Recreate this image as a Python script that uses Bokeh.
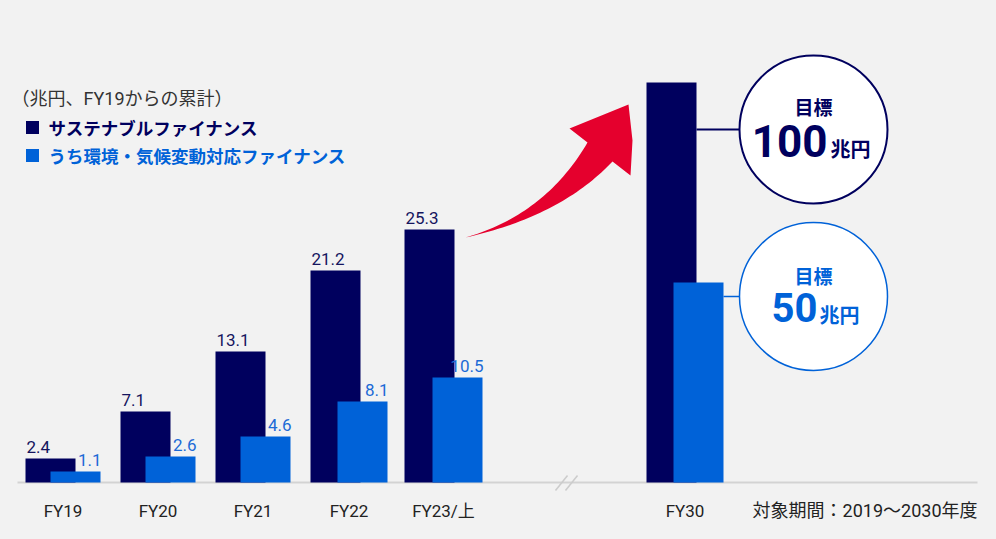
import numpy as np
from bokeh.plotting import figure
from bokeh.models import Range1d
from bokeh.core.properties import value
from bokeh.embed import file_html
from bokeh.resources import INLINE

# ---------------- data ----------------
categories = ["FY19", "FY20", "FY21", "FY22", "FY23/上"]
sustainable = [2.4, 7.1, 13.1, 21.2, 25.3]
environmental = [1.1, 2.6, 4.6, 8.1, 10.5]
target_category = "FY30"
target_sustainable = [100]
target_environmental = [50]
unit_note = "（兆円、FY19からの累計）"
legend_labels = ["サステナブルファイナンス", "うち環境・気候変動対応ファイナンス"]
period_note = "対象期間：2019〜2030年度"
target_word = "目標"
target_unit = "兆円"

# ---------------- layout / style ----------------
W, H = 996, 539
BASE = 482                 # screen y of the baseline
PPU = 10                   # px per unit, actual years
PPU_T = 4                  # px per unit, target year (broken axis)
BAR_W = 50
LABEL_LIFT = 12            # px from bar top to the centre of its value label
dark_left = [25, 120, 215, 310, 404]
light_left = [50, 145, 240, 337, 432]
t_dark_left, t_light_left = 646, 673

NAVY = "#00005e"
BLUE = "#0062d8"
BLUE_TXT = "#1c6ad6"
NAVY_TXT = "#15155e"
BG = "#f2f2f2"
RED = "#e5002d"
LAT = value("Roboto")
MIX = value("Roboto, 'Noto Sans CJK JP'")
CJK = value("Noto Sans CJK JP")


def sy(screen_y):
    return (BASE - np.asarray(screen_y, dtype=float)) / PPU


def fy(screen_y):
    return float(sy(screen_y))


p = figure(width=W, height=H, output_backend="svg", toolbar_location=None,
           x_range=Range1d(0, W), y_range=Range1d(fy(H), fy(0)),
           min_border=0, background_fill_color=BG, border_fill_color=BG,
           outline_line_color=None, x_axis_location=None, y_axis_location=None)
p.grid.visible = False
p.extra_y_ranges = {"target": Range1d((BASE - H) / PPU_T, BASE / PPU_T)}

# baseline + break marks
p.segment(x0=[17], y0=[0], x1=[977], y1=[0], line_color="#d3d3d3", line_width=2)
p.segment(x0=[555, 565], y0=[fy(490)] * 2, x1=[567, 577], y1=[fy(475)] * 2,
          line_color="#cccccc", line_width=1.5)

# bars (actual)
dl = np.array(dark_left, dtype=float)
ll = np.array(light_left, dtype=float)
p.quad(left=dl, right=dl + BAR_W, bottom=0, top=sustainable, fill_color=NAVY, line_color=None)
p.quad(left=ll, right=ll + BAR_W, bottom=0, top=environmental, fill_color=BLUE, line_color=None)

# bars (target, own scale)
p.quad(left=[t_dark_left], right=[t_dark_left + BAR_W], bottom=0, top=target_sustainable,
       fill_color=NAVY, line_color=None, y_range_name="target")
p.quad(left=[t_light_left], right=[t_light_left + BAR_W], bottom=0, top=target_environmental,
       fill_color=BLUE, line_color=None, y_range_name="target")

# value labels
lift = LABEL_LIFT / PPU
p.text(x=dl + 1, y=[v + lift for v in sustainable], text=[f"{v:.1f}" for v in sustainable],
       text_font=LAT, text_font_size="17px", text_color=NAVY_TXT,
       text_align="left", text_baseline="middle")
p.text(x=ll + BAR_W + 1, y=[v + lift for v in environmental],
       text=[f"{v:.1f}" for v in environmental],
       text_font=LAT, text_font_size="17px", text_color=BLUE_TXT,
       text_align="right", text_baseline="middle")

# category labels
centers = list((dl + ll + BAR_W) / 2) + [(t_dark_left + t_light_left + BAR_W) / 2]
p.text(x=centers, y=[fy(510)] * len(centers), text=categories + [target_category],
       text_font=MIX, text_font_size="17px", text_color="#222222",
       text_align="center", text_baseline="middle")
p.text(x=[977], y=[fy(510)], text=[period_note], text_font=MIX, text_font_size="18px",
       text_color="#222222", text_align="right", text_baseline="middle")

# legend
p.text(x=[11], y=[fy(98)], text=[unit_note], text_font=MIX, text_font_size="18px",
       text_color="#333333", text_align="left", text_baseline="middle")
p.scatter(x=[32, 32], y=[fy(127), fy(155)], marker="square", size=13,
          fill_color=[NAVY, BLUE], line_color=None)
p.text(x=[48], y=[fy(127)], text=[legend_labels[0]], text_font=CJK,
       text_font_size="17.5px", text_font_style="bold", text_color=NAVY,
       text_align="left", text_baseline="middle")
p.text(x=[48], y=[fy(155)], text=[legend_labels[1]], text_font=CJK,
       text_font_size="17.5px", text_font_style="bold", text_color=BLUE,
       text_align="left", text_baseline="middle")


# red arrow
def qbez(p0, c, p2, n=40):
    t = np.linspace(0, 1, n)[:, None]
    return (1 - t) ** 2 * np.array(p0) + 2 * (1 - t) * t * np.array(c) + t ** 2 * np.array(p2)


upper = qbez((465, 237), (545, 214), (587, 142))
head = np.array([(569, 128), (628, 104), (632, 140), (630, 175), (612, 161)])
lower = qbez((612, 161), (560, 216), (465, 237))
pts = np.vstack([upper, head, lower])
p.patch(x=pts[:, 0], y=sy(pts[:, 1]), fill_color=RED, line_color=None)

# target callouts
p.segment(x0=[t_dark_left + BAR_W], y0=[fy(129)], x1=[740], y1=[fy(129)],
          line_color=NAVY, line_width=2)
p.segment(x0=[t_light_left + BAR_W], y0=[fy(296)], x1=[740], y1=[fy(296)],
          line_color=BLUE, line_width=1.5)
p.scatter(x=[813], y=[fy(129)], size=148, marker="circle", fill_color="white",
          line_color=NAVY, line_width=2)
p.scatter(x=[813], y=[fy(296)], size=148, marker="circle", fill_color="white",
          line_color=BLUE, line_width=1.5)

p.text(x=[813, 813], y=[fy(106), fy(275)], text=[target_word] * 2, text_font=CJK,
       text_font_size="19px", text_font_style="bold", text_color=[NAVY, BLUE],
       text_align="center", text_baseline="middle")
p.text(x=[827], y=[fy(140)], text=[f"{target_sustainable[0]}"], text_font=LAT,
       text_font_size="44px", text_font_style="bold", text_color=NAVY,
       text_align="right", text_baseline="middle")
p.text(x=[817], y=[fy(307)], text=[f"{target_environmental[0]}"], text_font=LAT,
       text_font_size="40px", text_font_style="bold", text_color=BLUE,
       text_align="right", text_baseline="middle")
p.text(x=[830, 819], y=[fy(148), fy(314)], text=[target_unit] * 2, text_font=CJK,
       text_font_size="20px", text_font_style="bold", text_color=[NAVY, BLUE],
       text_align="left", text_baseline="middle")

html = file_html(p, INLINE)
html = html.replace("<head>", "<head><style>html,body{background:%s;}</style>" % BG, 1)
open("out.html", "w").write(html)
